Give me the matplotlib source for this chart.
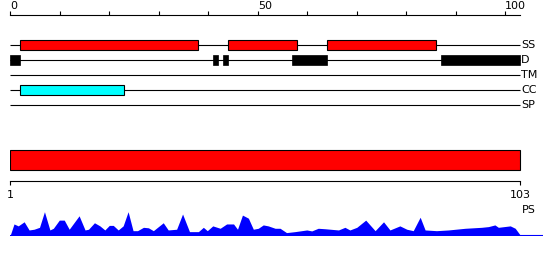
import numpy as np
import matplotlib
matplotlib.use('Agg')
import matplotlib.pyplot as plt

# sequence length and track names
seq_len = 103
tracks = ['SS', 'D', 'TM', 'CC', 'SP']

# feature segments (start, end) in residue units
ss_segments = [(2, 38), (44, 58), (64, 86)]
d_segments = [(0, 2), (41, 42), (43, 44), (57, 64), (87, 103)]
cc_segments = [(2, 23)]

# profile under the PS bar (position, value)
prof_pos = [0.0, 0.75, 1.6, 2.8, 3.8, 4.8, 5.9, 6.9, 8.0, 8.7, 9.9, 10.9, 11.9, 13.9, 15.1,
            15.8, 17.0, 18.1, 19.1, 20.0, 20.8, 21.8, 22.8, 23.8, 24.8, 25.7, 26.9, 27.9,
            28.9, 30.9, 31.9, 33.6, 34.8, 36.2, 38.0, 39.0, 39.8, 40.9, 42.4, 43.7, 45.1,
            45.9, 46.9, 48.1, 49.1, 50.1, 51.1, 52.1, 53.5, 54.5, 55.8, 57.5, 59.9, 60.9,
            62.2, 63.6, 66.3, 67.6, 68.6, 70.0, 71.8, 73.7, 75.4, 76.7, 78.7, 80.1, 81.4,
            82.8, 83.8, 86.1, 88.5, 91.9, 95.2, 96.6, 97.9, 98.6, 101.0, 102.0, 103.0]
prof_val = [0.0, 0.46, 0.38, 0.55, 0.21, 0.24, 0.32, 0.97, 0.21, 0.28, 0.62, 0.62, 0.24, 0.80, 0.21,
            0.24, 0.51, 0.38, 0.21, 0.40, 0.40, 0.21, 0.38, 0.97, 0.18, 0.18, 0.32, 0.30,
            0.18, 0.51, 0.21, 0.24, 0.875, 0.14, 0.14, 0.32, 0.18, 0.38, 0.28, 0.46, 0.46,
            0.24, 0.83, 0.70, 0.24, 0.28, 0.42, 0.38, 0.28, 0.28, 0.10, 0.14, 0.21, 0.17,
            0.28, 0.26, 0.21, 0.32, 0.21, 0.32, 0.62, 0.18, 0.55, 0.21, 0.38, 0.24, 0.18,
            0.74, 0.21, 0.18, 0.21, 0.28, 0.32, 0.35, 0.42, 0.32, 0.38, 0.28, 0.0]

W, H = 550, 260
px_per_res = 4.95
x0 = 10.3
xmax = 107.7

fig = plt.figure(figsize=(W / 100, H / 100), dpi=100)
left = x0 / W
width = xmax * px_per_res / W

# --- top: tracks with scale ---
ax = fig.add_axes([left, 1 - 112.5 / H, width, 97.5 / H])
ax.set_xlim(0, xmax)
ax.set_ylim(4.5, -2)
for s in ['left', 'right', 'bottom']:
    ax.spines[s].set_visible(False)
ax.spines['top'].set_bounds(0, seq_len)
ax.spines['top'].set_linewidth(0.8)
ax.xaxis.tick_top()
ax.set_xticks([0, 50, 100])
ax.set_xticks([10, 20, 30, 40, 60, 70, 80, 90], minor=True)
ax.tick_params(axis='x', which='both', direction='out', length=3, width=0.8, pad=0, labelsize=8)
for lab in ax.get_xticklabels():
    lab.set_horizontalalignment('left')
ax.set_yticks([])

for i, name in enumerate(tracks):
    ax.hlines(i, 0, seq_len, color='black', lw=0.8, zorder=1)
    ax.text(seq_len + 0.2, i, name, ha='left', va='center', fontsize=8, clip_on=False)

h = 0.68
for s, e in ss_segments:
    ax.barh(0, e - s, left=s, height=h, color='#ff0000', edgecolor='black', lw=0.8, zorder=2)
for s, e in d_segments:
    ax.barh(1, e - s, left=s, height=h + 0.03, color='black', edgecolor='black', lw=0.5, zorder=2)
for s, e in cc_segments:
    ax.barh(3, e - s, left=s, height=h, color='#00ffff', edgecolor='black', lw=0.8, zorder=2)

# --- PS bar with its scale ---
ax2 = fig.add_axes([left, 1 - 180.7 / H, width, 32.4 / H])
ax2.set_xlim(0, xmax)
ax2.set_ylim(-0.52, 1.1)
for s in ['left', 'right', 'top']:
    ax2.spines[s].set_visible(False)
ax2.spines['bottom'].set_bounds(0, seq_len)
ax2.spines['bottom'].set_linewidth(0.8)
ax2.barh(0.5, seq_len, left=0, height=1.0, color='#ff0000', edgecolor='black', lw=0.8)
ax2.set_xticks([0, seq_len])
ax2.set_xticklabels(['1', str(seq_len)])
ax2.tick_params(axis='x', direction='out', length=3, width=0.8, labelsize=8)
ax2.set_yticks([])

# --- profile ---
ax3 = fig.add_axes([left, 1 - 236.2 / H, width, 30 / H])
ax3.set_xlim(0, xmax)
ax3.set_ylim(-0.05, 1.2)
ax3.axis('off')
ax3.fill_between(prof_pos, 0, prof_val, color='#0000ff', lw=0)
ax3.axhline(0, color='#0000ff', lw=0.8)
ax3.text(seq_len + 0.3, 1.06, 'PS', ha='left', va='center', fontsize=8, clip_on=False)

fig.savefig('out.png', dpi=100)
